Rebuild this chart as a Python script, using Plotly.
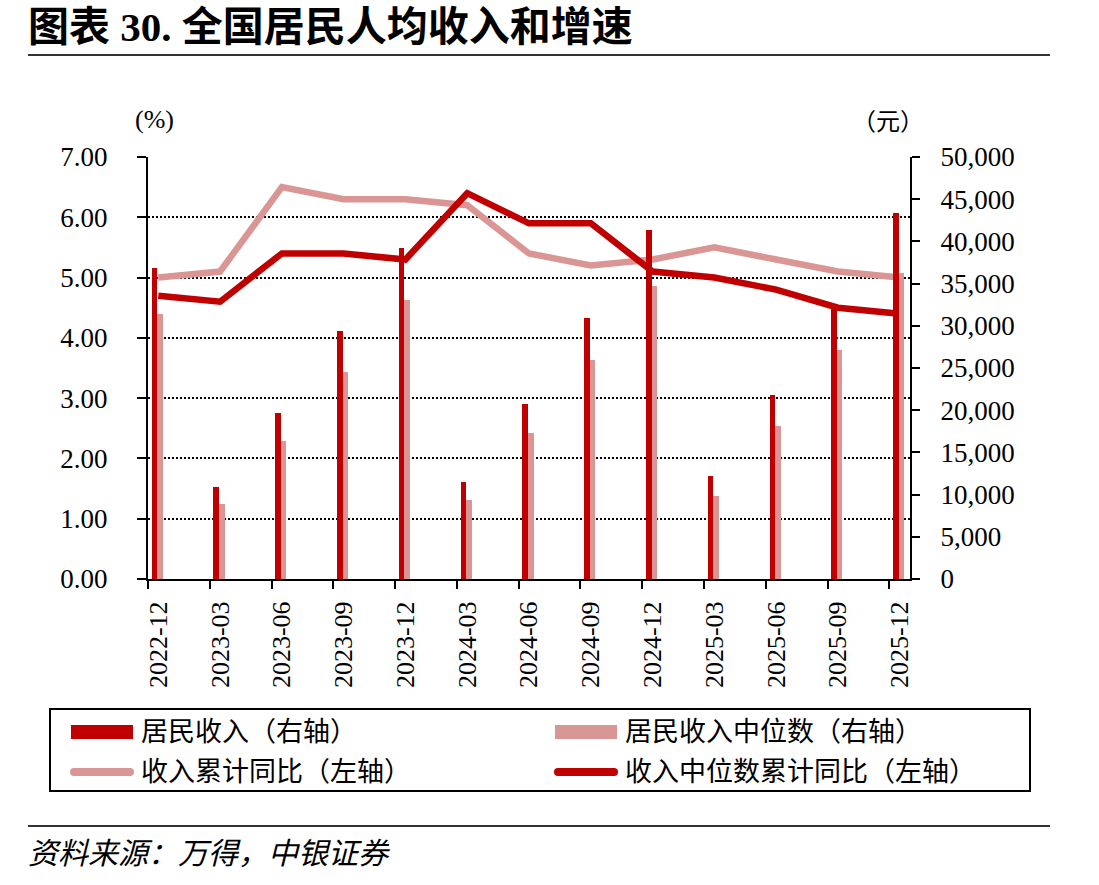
import plotly.graph_objects as go
from plotly.subplots import make_subplots

# ---------------- data ----------------
dates = ["2022-12", "2023-03", "2023-06", "2023-09", "2023-12", "2024-03", "2024-06",
         "2024-09", "2024-12", "2025-03", "2025-06", "2025-09", "2025-12"]
income = [36883, 10870, 19672, 29398, 39218, 11539, 20733, 30941, 41314, 12179, 21840, 32509, 43400]
income_median = [31370, 8890, 16360, 24490, 33036, 9360, 17270, 25950, 34707, 9870, 18130, 27140, 36200]
growth_total = [5.0, 5.1, 6.5, 6.3, 6.3, 6.2, 5.4, 5.2, 5.3, 5.5, 5.3, 5.1, 5.0]
growth_median = [4.7, 4.6, 5.4, 5.4, 5.3, 6.4, 5.9, 5.9, 5.1, 5.0, 4.8, 4.5, 4.4]
left_ticks = [0, 1, 2, 3, 4, 5, 6, 7]
right_ticks = [0, 5000, 10000, 15000, 20000, 25000, 30000, 35000, 40000, 45000, 50000]
series_names = ["居民收入（右轴）", "居民收入中位数（右轴）", "收入累计同比（左轴）", "收入中位数累计同比（左轴）"]

# month index on a monthly date axis (2022-12 = 0)
def month_index(d):
    y, m = d.split("-")
    return (int(y) - 2022) * 12 + int(m) - 12

xs = [month_index(d) for d in dates]
n_months = xs[-1] + 1

DARK = "#C00000"
PINK = "#DA9694"
FONT = "Liberation Serif, Noto Sans CJK SC"

fig = make_subplots(specs=[[{"secondary_y": True}]])

fig.add_trace(go.Bar(x=xs, y=income, name=series_names[0], marker_color=DARK,
                     marker_line_width=0, offset=-0.32, width=0.27), secondary_y=True)
fig.add_trace(go.Bar(x=xs, y=income_median, name=series_names[1], marker_color=PINK,
                     marker_line_width=0, offset=-0.05, width=0.27), secondary_y=True)
fig.add_trace(go.Scatter(x=xs, y=growth_total, name=series_names[2], mode="lines",
                         line=dict(color=PINK, width=6.5)), secondary_y=False)
fig.add_trace(go.Scatter(x=xs, y=growth_median, name=series_names[3], mode="lines",
                         line=dict(color=DARK, width=6.5)), secondary_y=False)

L, R, T, B = 148, 910, 157, 579
W, H = 1099, 885

def px(x):
    return (x - L) / (R - L)

def py(y):
    return (B - y) / (B - T)

fig.update_layout(
    width=W, height=H, autosize=False,
    margin=dict(l=L, r=W - R, t=T, b=H - B, pad=0, autoexpand=False),
    plot_bgcolor="white", paper_bgcolor="white",
    font=dict(family=FONT, size=26, color="black"),
    bargap=0, barmode="overlay",
    showlegend=False,
)

fig.update_xaxes(
    domain=[0, 1],
    range=[-0.5, n_months - 0.5], automargin=False,
    tickmode="array", tickvals=xs, ticktext=dates, tickangle=-90,
    ticks="", ticklabelstandoff=10,
    tickfont=dict(family=FONT, size=26),
    showline=True, linecolor="black", linewidth=2,
    showgrid=False, zeroline=False,
    minor=dict(tickmode="array", tickvals=[x - 0.5 for x in xs[1:]] + [-0.5],
               ticks="outside", ticklen=8, tickwidth=2, tickcolor="black", showgrid=False),
)

fig.update_yaxes(
    range=[0, 7], tickmode="array", tickvals=left_ticks, automargin=False,
    ticktext=[f"{v:.2f}" for v in left_ticks],
    ticks="outside", ticklen=9, tickwidth=2, tickcolor="black",
    ticklabelstandoff=24,
    tickfont=dict(family=FONT, size=27),
    showline=True, linecolor="black", linewidth=2,
    showgrid=True, gridcolor="black", gridwidth=2, griddash="2px,2px",
    zeroline=False, secondary_y=False,
)
fig.update_yaxes(
    range=[0, 50000], tickmode="array", tickvals=right_ticks, automargin=False,
    ticktext=[f"{v:,}" for v in right_ticks],
    ticks="outside", ticklen=8, tickwidth=2, tickcolor="black",
    ticklabelstandoff=15,
    tickfont=dict(family=FONT, size=27),
    showline=True, linecolor="black", linewidth=2,
    showgrid=False, zeroline=False, secondary_y=True,
)

annotations = [
    dict(text="<b>图表 30. 全国居民人均收入和增速</b>", x=px(26), y=py(27), xanchor="left",
         yanchor="middle", font=dict(family=FONT, size=41, color="black")),
    dict(text="<i>资料来源：万得，中银证券</i>", x=px(26), y=py(853), xanchor="left", yanchor="middle",
         font=dict(family=FONT, size=30, color="black")),
    dict(text="(%)", x=px(154), y=py(120), xanchor="center", yanchor="middle",
         font=dict(family=FONT, size=26)),
    dict(text="（元）", x=px(888), y=py(122), xanchor="center", yanchor="middle",
         font=dict(family=FONT, size=24)),
]

# ---- legend (drawn as a boxed key, two columns) ----
row_y = [732, 772]
col_sym = [(71, 133), (555, 617)]
col_txt = [139, 623]
legend_items = [  # (name, kind, colour, col, row)
    (series_names[0], "rect", DARK, 0, 0),
    (series_names[1], "rect", PINK, 1, 0),
    (series_names[2], "line", PINK, 0, 1),
    (series_names[3], "line", DARK, 1, 1),
]
shapes = [
    dict(type="line", xref="paper", yref="paper", x0=px(28), x1=px(1050), y0=py(55), y1=py(55),
         line=dict(color="#333333", width=2)),
    dict(type="line", xref="paper", yref="paper", x0=px(28), x1=px(1050), y0=py(826), y1=py(826),
         line=dict(color="#333333", width=2)),
    dict(type="rect", xref="paper", yref="paper", x0=px(50), x1=px(1030), y0=py(709), y1=py(791),
         line=dict(color="black", width=2), fillcolor="white", layer="below"),
]
for name, kind, col, c, r in legend_items:
    x0, x1 = col_sym[c]
    yc = row_y[r]
    if kind == "rect":
        shapes.append(dict(type="rect", xref="paper", yref="paper", x0=px(x0), x1=px(x1),
                           y0=py(yc - 7), y1=py(yc + 7), line=dict(width=0), fillcolor=col))
    else:
        shapes.append(dict(type="line", xref="paper", yref="paper", x0=px(x0 + 3), x1=px(x1 - 3),
                           y0=py(yc), y1=py(yc), line=dict(color=col, width=8)))
        for xe in (x0 + 3, x1 - 3):
            shapes.append(dict(type="circle", xref="paper", yref="paper",
                               x0=px(xe - 4), x1=px(xe + 4), y0=py(yc - 4), y1=py(yc + 4),
                               line=dict(width=0), fillcolor=col))
    annotations.append(dict(text=name, x=px(col_txt[c]), y=py(yc), xanchor="left", yanchor="middle",
                            font=dict(family=FONT, size=27, color="black")))

for a in annotations:
    a.update(xref="paper", yref="paper", showarrow=False)
fig.update_layout(annotations=annotations, shapes=shapes)

fig.write_html("out.html")
